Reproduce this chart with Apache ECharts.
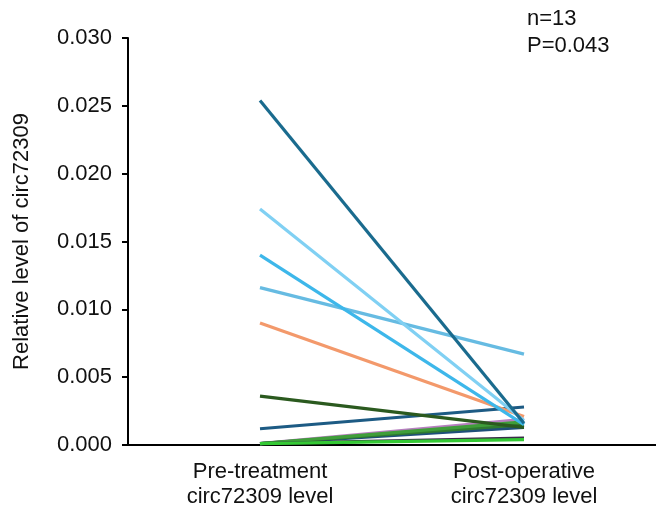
<!DOCTYPE html>
<html><head><meta charset="utf-8">
<script src="https://cdn.jsdelivr.net/npm/echarts@6/dist/echarts.min.js"></script>
<style>html,body{margin:0;padding:0;background:#fff}#c{width:656px;height:509px}</style>
</head><body><div id="c"></div>
<script>
const categories = ['Pre-treatment\ncirc72309 level', 'Post-operative\ncirc72309 level'];
const yTicks = [0, 0.005, 0.010, 0.015, 0.020, 0.025, 0.030];
const preValues  = [0.0254, 0.0174, 0.0140, 0.0116, 0.0090, 0.0036, 0.0012, 0.0001, 0.0001, 0.0001, 0.0001, 0.0001, 0.0001];
const postValues = [0.0016, 0.0018, 0.0015, 0.0067, 0.0021, 0.0013, 0.0028, 0.0019, 0.0017, 0.0015, 0.0013, 0.0005, 0.0004];
const colors = ['#1a6b8e', '#80d0f3', '#3db7ea', '#66bbe2', '#f3996b', '#2b5a1f', '#1d5b84', '#b77fc0', '#3f9e3a', '#2f7a30', '#1f4f7a', '#3a2d48', '#34c934'];
const zOrder = [13, 12, 11, 10, 9, 8, 7, 1, 4, 3, 2, 5, 6];

const FONT = 'Liberation Sans, Arial, Helvetica';
const series = preValues.map((v, i) => ({
  type: 'line',
  data: [v, postValues[i]],
  symbol: 'none',
  lineStyle: { color: colors[i], width: 3.2 },
  z: 2 + zOrder[i]
}));

const chart = echarts.init(document.getElementById('c'));
chart.setOption({
  animation: false,
  grid: { left: 128, right: 0, top: 38, bottom: 64, containLabel: false, outerBoundsMode: 'none' },
  xAxis: {
    type: 'category', data: categories, boundaryGap: true,
    axisLine: { lineStyle: { color: '#000', width: 2 } },
    axisTick: { show: false },
    axisLabel: { color: '#111', fontSize: 22, fontFamily: FONT, lineHeight: 25, margin: 14 }
  },
  yAxis: {
    type: 'value', min: 0, max: 0.03, interval: 0.005,
    name: 'Relative level of circ72309', nameLocation: 'middle', nameGap: 95,
    nameTextStyle: { color: '#111', fontSize: 22, fontFamily: FONT },
    axisLine: { show: true, lineStyle: { color: '#000', width: 2 } },
    axisTick: { show: true, length: 6, lineStyle: { color: '#000', width: 2 } },
    splitLine: { show: false },
    axisLabel: { color: '#111', fontSize: 22, fontFamily: FONT, margin: 16,
      formatter: v => v.toFixed(3) }
  },
  graphic: [
    { type: 'text', left: 527, top: 8, style: { text: 'n=13', fontSize: 22, fontFamily: FONT, fill: '#111' } },
    { type: 'text', left: 527, top: 35, style: { text: 'P=0.043', fontSize: 22, fontFamily: FONT, fill: '#111' } }
  ],
  series: series
});
</script></body></html>
